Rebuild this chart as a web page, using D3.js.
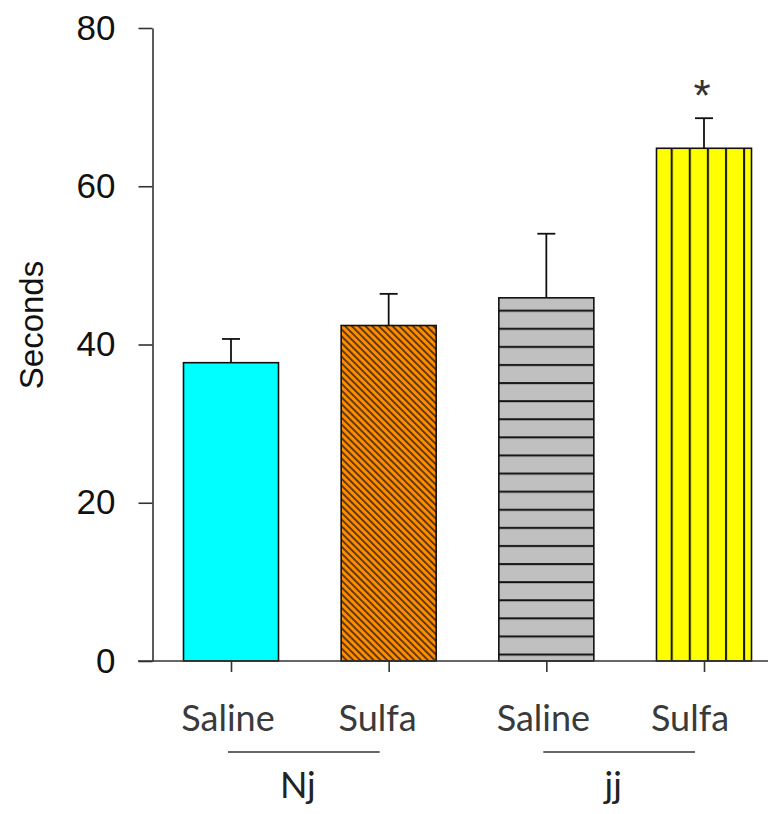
<!DOCTYPE html>
<html>
<head>
<meta charset="utf-8">
<script src="https://cdn.jsdelivr.net/npm/d3@7"></script>
<style>
  body { margin: 0; background: #fff; }
  svg { display: block; }
</style>
</head>
<body>
<div id="chart"></div>
<script>
// Data
const groups = ["Nj", "jj"];
const treatments = ["Saline", "Sulfa", "Saline", "Sulfa"];
const means = [37.7, 42.4, 45.9, 64.8];
const errors = [3.0, 4.0, 8.1, 3.8];
const significant = [false, false, false, true];
const yTicks = [0, 20, 40, 60, 80];

const fills = ["#00ffff", "url(#diag)", "url(#horiz)", "url(#vert)"];

const width = 774, height = 814;
const axisColor = "#333";

const svg = d3.select("#chart").append("svg")
  .attr("width", width)
  .attr("height", height);

// Hatch patterns
const defs = svg.append("defs");

const diag = defs.append("pattern")
  .attr("id", "diag")
  .attr("patternUnits", "userSpaceOnUse")
  .attr("width", 4.8).attr("height", 4.8)
  .attr("patternTransform", "rotate(45)");
diag.append("rect").attr("width", 4.8).attr("height", 4.8).attr("fill", "#ff8c00");
diag.append("line").attr("x1", 0).attr("x2", 4.8).attr("y1", 1).attr("y2", 1)
  .attr("stroke", "#111").attr("stroke-width", 1.3);

const horiz = defs.append("pattern")
  .attr("id", "horiz")
  .attr("patternUnits", "userSpaceOnUse")
  .attr("width", 18.1).attr("height", 18.1);
horiz.append("rect").attr("width", 18.1).attr("height", 18.1).attr("fill", "#c0c0c0");
horiz.append("line").attr("x1", 0).attr("x2", 18.1).attr("y1", 3).attr("y2", 3)
  .attr("stroke", "#111").attr("stroke-width", 2);

const vert = defs.append("pattern")
  .attr("id", "vert")
  .attr("patternUnits", "userSpaceOnUse")
  .attr("width", 18.1).attr("height", 18.1);
vert.append("rect").attr("width", 18.1).attr("height", 18.1).attr("fill", "#ffff00");
vert.append("line").attr("x1", 2).attr("x2", 2).attr("y1", 0).attr("y2", 18.1)
  .attr("stroke", "#111").attr("stroke-width", 2);

// Scales
const x = d3.scalePoint()
  .domain(d3.range(means.length))
  .range([231, 704]);

const y = d3.scaleLinear()
  .domain([0, 80])
  .range([661, 28]);

const barWidth = 95;

// Bars
svg.append("g")
  .selectAll("rect")
  .data(means)
  .join("rect")
  .attr("x", (d, i) => x(i) - barWidth / 2)
  .attr("y", d => y(d))
  .attr("width", barWidth)
  .attr("height", d => y(0) - y(d))
  .attr("fill", (d, i) => fills[i])
  .attr("stroke", "#111")
  .attr("stroke-width", 1.6);

// Error bars (upper only)
const err = svg.append("g")
  .attr("stroke", "#111")
  .attr("stroke-width", 1.8);

err.selectAll("line.stem")
  .data(means)
  .join("line")
  .attr("class", "stem")
  .attr("x1", (d, i) => x(i)).attr("x2", (d, i) => x(i))
  .attr("y1", d => y(d)).attr("y2", (d, i) => y(d + errors[i]));

err.selectAll("line.cap")
  .data(means)
  .join("line")
  .attr("class", "cap")
  .attr("x1", (d, i) => x(i) - 9).attr("x2", (d, i) => x(i) + 9)
  .attr("y1", (d, i) => y(d + errors[i])).attr("y2", (d, i) => y(d + errors[i]));

// Significance marker
svg.append("g")
  .selectAll("text")
  .data(means.map((d, i) => ({ i, top: d + errors[i] })).filter(d => significant[d.i]))
  .join("text")
  .attr("x", d => x(d.i) - 2)
  .attr("y", d => y(d.top) - 7)
  .attr("text-anchor", "middle")
  .style("font-family", "'Liberation Sans', Arial, sans-serif")
  .style("font-size", "44px")
  .attr("fill", "#333")
  .text("*");

// Y axis
const yAxis = svg.append("g")
  .attr("transform", "translate(152.5,0)")
  .call(d3.axisLeft(y).tickValues(yTicks).tickSize(14).tickSizeOuter(0).tickPadding(23));
yAxis.select(".domain").attr("stroke", axisColor).attr("stroke-width", 1.6);
yAxis.selectAll(".tick line").attr("stroke", axisColor).attr("stroke-width", 1.6);
yAxis.selectAll(".tick text")
  .attr("fill", "#111")
  .style("font-family", "'Liberation Sans', Arial, sans-serif")
  .style("font-size", "35px");

// X axis line and ticks
svg.append("line")
  .attr("x1", 138).attr("x2", 768)
  .attr("y1", y(0)).attr("y2", y(0))
  .attr("stroke", axisColor).attr("stroke-width", 1.6);

const xAxis = svg.append("g")
  .attr("transform", `translate(0,${y(0)})`)
  .call(d3.axisBottom(x).tickSize(11).tickFormat(""));
xAxis.select(".domain").remove();
xAxis.selectAll(".tick line").attr("stroke", axisColor).attr("stroke-width", 1.6);

// Treatment labels
const labelOffset = [-3, -11, -3, -14];
svg.append("g")
  .selectAll("text")
  .data(treatments)
  .join("text")
  .attr("x", (d, i) => x(i) + labelOffset[i])
  .attr("y", 731)
  .attr("text-anchor", "middle")
  .style("font-family", "Lato, 'Open Sans', sans-serif")
  .style("font-size", "36px")
  .attr("fill", "#3a3a3a")
  .text(d => d);

// Group underlines and labels
const grp = svg.append("g");
groups.forEach((g, k) => {
  const a = x(2 * k) - 3, b = x(2 * k + 1) - 9;
  grp.append("line")
    .attr("x1", a).attr("x2", b)
    .attr("y1", 752).attr("y2", 752)
    .attr("stroke", axisColor).attr("stroke-width", 1.6);
  grp.append("text")
    .attr("x", (a + b) / 2 - 6)
    .attr("y", 798)
    .attr("text-anchor", "middle")
    .style("font-family", "Lato, 'Open Sans', sans-serif")
    .style("font-size", "36px")
    .attr("fill", "#222")
    .text(g);
});

// Y axis title
svg.append("text")
  .attr("transform", "translate(43,325) rotate(-90)")
  .attr("text-anchor", "middle")
  .style("font-family", "'Liberation Sans', Arial, sans-serif")
  .style("font-size", "33px")
  .attr("fill", "#111")
  .text("Seconds");
</script>
</body>
</html>
